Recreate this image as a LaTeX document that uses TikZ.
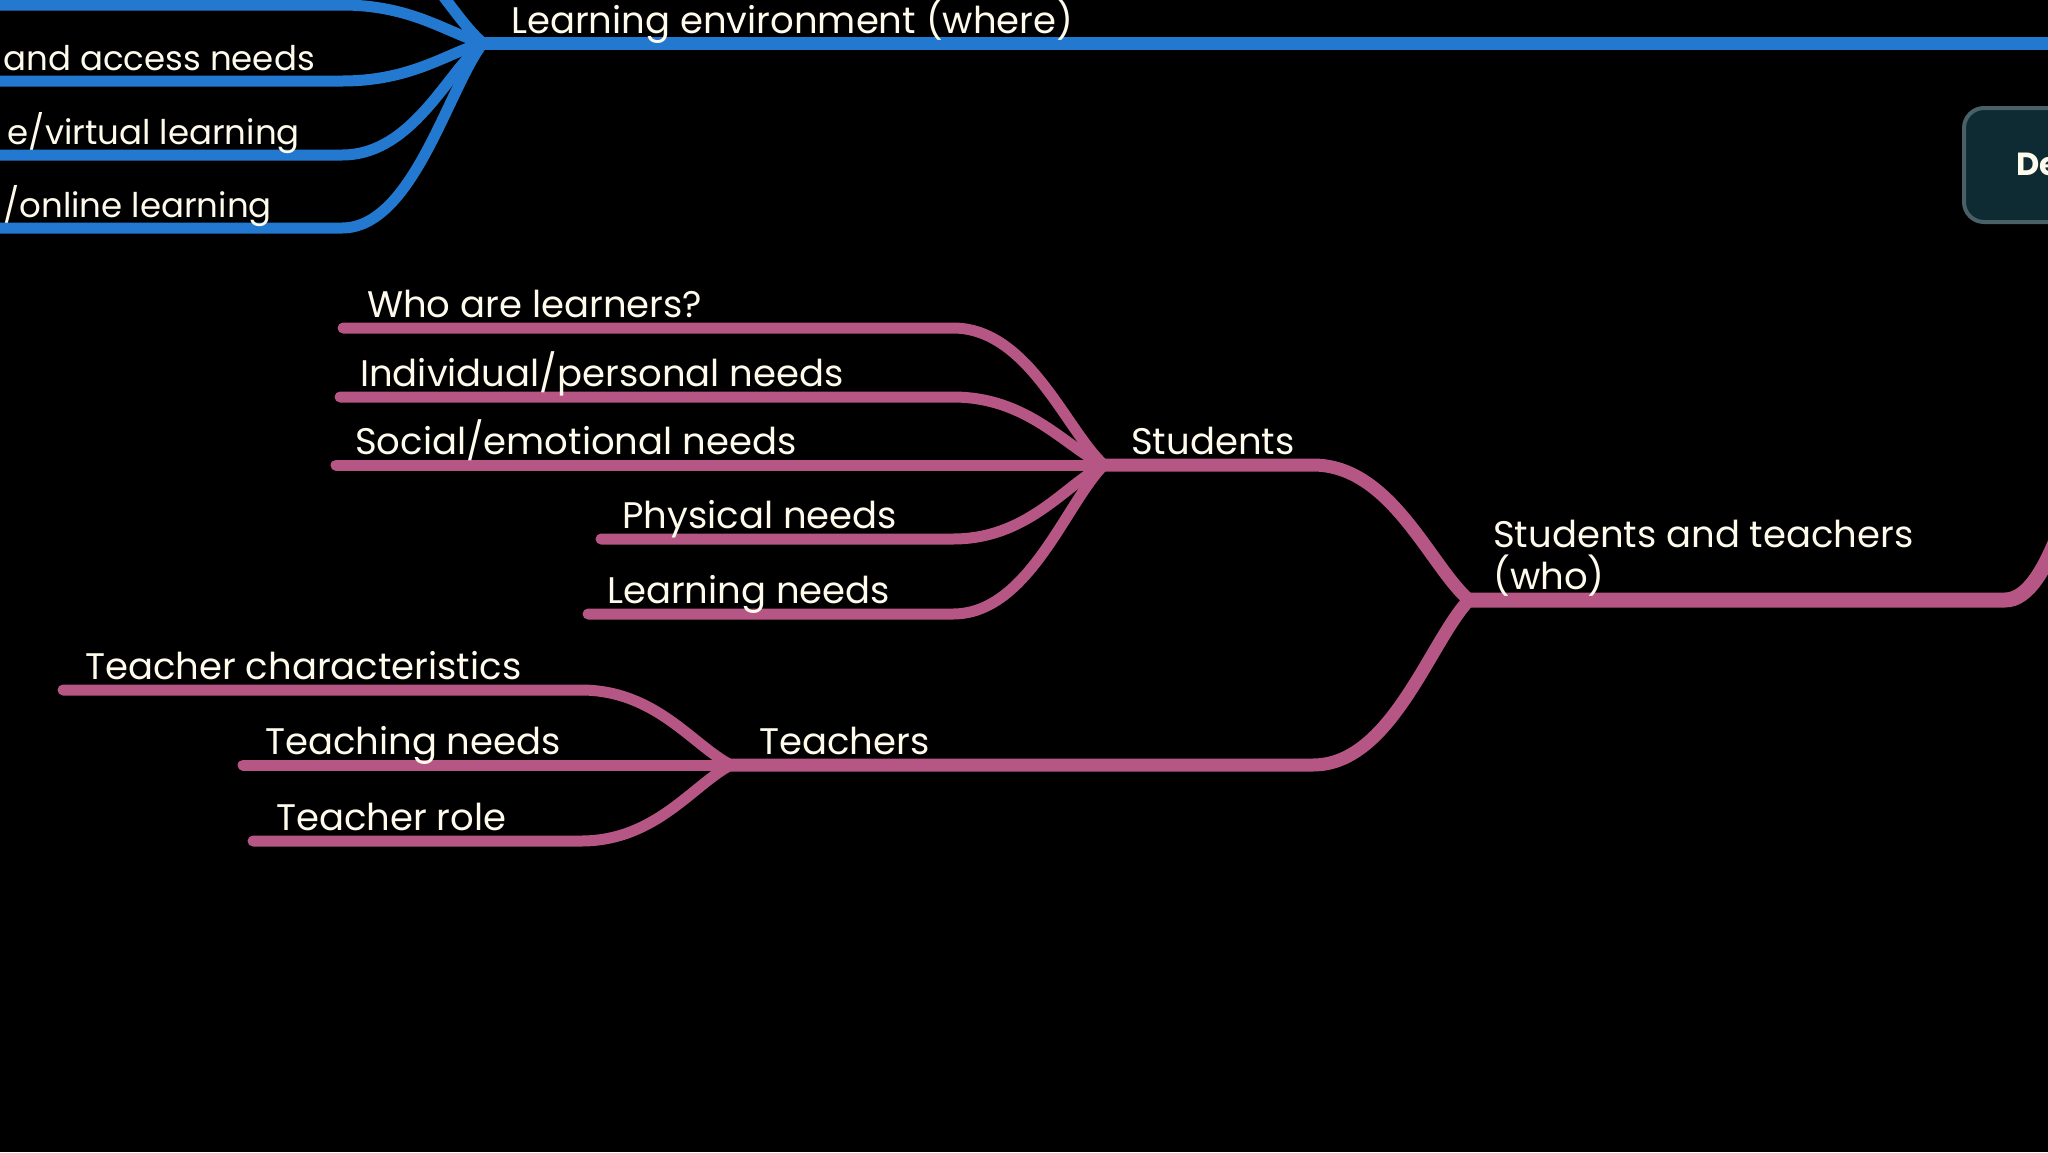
\documentclass[tikz,border=0pt]{standalone}
\usepackage{fontspec}
\setmainfont{Poppins}
\usetikzlibrary{calc}
\definecolor{bluel}{RGB}{35,120,207}
\definecolor{pinkl}{RGB}{182,86,132}
\definecolor{txtc}{RGB}{255,251,236}
\definecolor{boxfill}{RGB}{14,42,50}
\definecolor{boxdraw}{RGB}{72,96,102}
\tikzset{
  fan/.style={to path={let \p1=(\tikztostart), \p2=(\tikztotarget) in
    .. controls ({0.5*\x1+0.5*\x2},\y1) and ($(\tikztotarget)!0.25!(\tikztostart)$) .. (\tikztotarget) \tikztonodes}},
  bbranch/.style={draw=bluel, line width=11pt, line cap=round},
  btrunk/.style={draw=bluel, line width=13pt, line cap=round},
  pbranch/.style={draw=pinkl, line width=11pt, line cap=round},
  ptrunk/.style={draw=pinkl, line width=13pt, line cap=round},
  pmain/.style={draw=pinkl, line width=15pt, line cap=round},
  lbl/.style={text=txtc, inner sep=0pt, font=\fontsize{37}{42}\selectfont},
  lbls/.style={text=txtc, inner sep=0pt, font=\fontsize{34}{40}\selectfont},
}
\begin{document}
\begin{tikzpicture}[x=1pt,y=-1pt]
\useasboundingbox (0,0) rectangle (2048,1152);
\fill[black] (0,0) rectangle (2048,1152);
\clip (0,0) rectangle (2048,1152);

% ---------- blue part ----------
\coordinate (J0) at (483,43);
\coordinate (Bend) at (2070,43);
\coordinate (b0s) at (-30,-72); \coordinate (b0b) at (342,-72);
\coordinate (b1s) at (-30,5);   \coordinate (b1b) at (342,5);
\coordinate (b2s) at (-30,81);  \coordinate (b2b) at (342,81);
\coordinate (b3s) at (-30,155); \coordinate (b3b) at (342,155);
\coordinate (b4s) at (-30,228); \coordinate (b4b) at (342,228);
\draw[bbranch] (b0s) -- (b0b) to[fan] (J0);
\draw[bbranch] (b1s) -- (b1b) to[fan] (J0);
\draw[bbranch] (b2s) -- (b2b) to[fan] (J0);
\draw[bbranch] (b3s) -- (b3b) to[fan] (J0);
\draw[bbranch] (b4s) -- (b4b) to[fan] (J0);
\draw[btrunk] (J0) -- (Bend);

\node[lbl, anchor=base west] (le) at (511,33) {Learning environment (where)};
\node[lbls, anchor=base east] (ac) at (315,70) {and access needs};
\node[lbls, anchor=base east] (vl) at (300,144) {e/virtual learning};
\node[lbls, anchor=base east] (ol) at (272,217) {/online learning};

% box at right
\draw[boxdraw, fill=boxfill, line width=4pt, rounded corners=20pt] (1964,108) rectangle (2200,222);
\node[text=txtc, inner sep=0pt, anchor=base west, font=\fontsize{32}{38}\selectfont\bfseries] (bx) at (2016,175) {De};

% ---------- pink part ----------
\coordinate (JS) at (1104,465);
\coordinate (JST) at (1469,600);
\coordinate (JT) at (731,765);
\coordinate (Jright) at (2100,420);

\coordinate (ws) at (343,328); \coordinate (wb) at (953,328);
\coordinate (is) at (340,397); \coordinate (ib) at (953,397);
\coordinate (ss) at (336,465);
\coordinate (ps) at (601,539); \coordinate (pb) at (953,539);
\coordinate (ls) at (588,614); \coordinate (lb) at (953,614);
\draw[pbranch] (ws) -- (wb) to[fan] (JS);
\draw[pbranch] (is) -- (ib) to[fan] (JS);
\draw[pbranch] (ss) -- (JS);
\draw[pbranch] (ps) -- (pb) to[fan] (JS);
\draw[pbranch] (ls) -- (lb) to[fan] (JS);

\coordinate (sb) at (1313,465);
\coordinate (tb) at (1313,765);
\draw[ptrunk] (JS) -- (sb) to[fan] (JST);
\draw[ptrunk] (JT) -- (tb) to[fan] (JST);
\coordinate (stb) at (2005,600);
\draw[pmain] (JST) -- (stb) to[fan] (Jright);

\coordinate (tcs) at (63,690);  \coordinate (tcb) at (581,690);
\coordinate (tns) at (243,765);
\coordinate (trs) at (253,841); \coordinate (trb) at (581,841);
\draw[pbranch] (tcs) -- (tcb) to[fan] (JT);
\draw[pbranch] (tns) -- (JT);
\draw[pbranch] (trs) -- (trb) to[fan] (JT);

\node[lbl, anchor=base west] (tw) at (367,317) {Who are learners?};
\node[lbl, anchor=base west] (ti) at (360,386) {Individual/personal needs};
\node[lbl, anchor=base west] (ts) at (355,454) {Social/emotional needs};
\node[lbl, anchor=base west] (tp) at (622,528) {Physical needs};
\node[lbl, anchor=base west] (tl) at (607,603) {Learning needs};
\node[lbl, anchor=base west] (tstu) at (1131,454) {Students};
\node[lbl, anchor=base west, align=left] (tst) at (1493,589) {Students and teachers\\(who)};
\node[lbl, anchor=base west] (ttea) at (759,754) {Teachers};
\node[lbl, anchor=base west] (ttc) at (85,679) {Teacher characteristics};
\node[lbl, anchor=base west] (ttn) at (265,754) {Teaching needs};
\node[lbl, anchor=base west] (ttr) at (276,830) {Teacher role};
\end{tikzpicture}
\end{document}
